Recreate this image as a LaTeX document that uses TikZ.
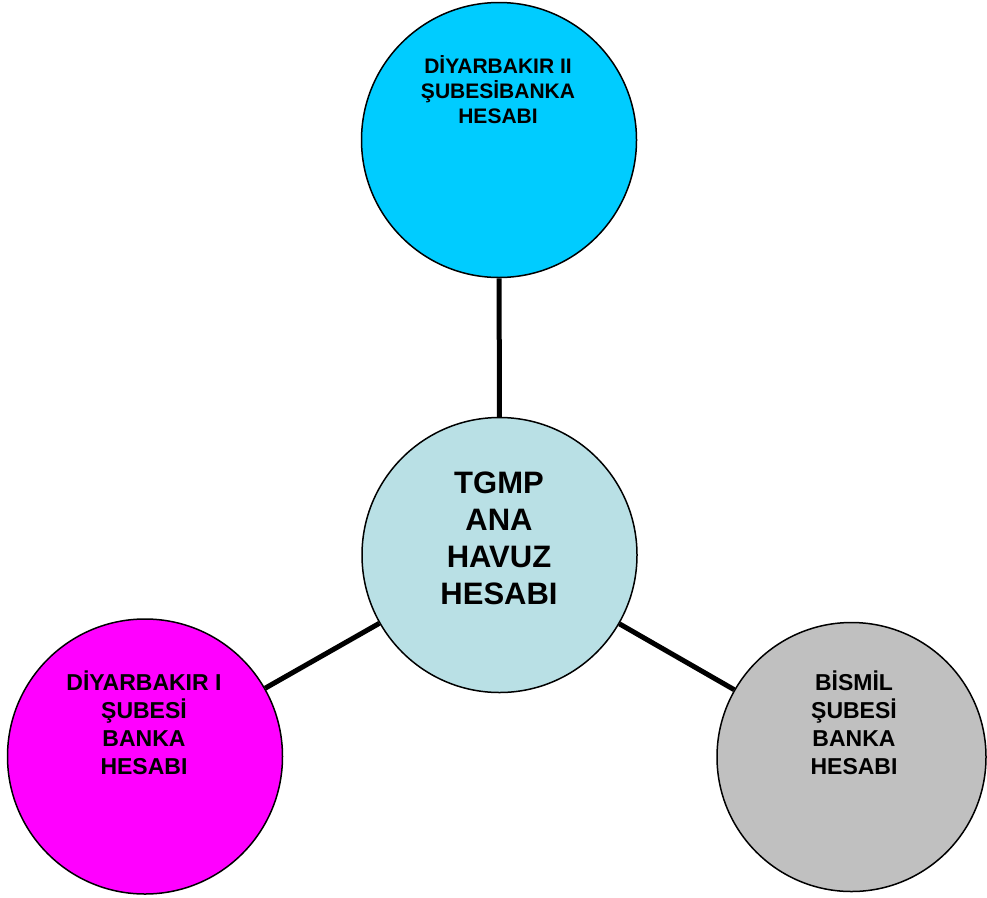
\documentclass[tikz,border=0pt]{standalone}
\usepackage{fontspec}
\setmainfont{Liberation Sans}
\definecolor{camgobegi}{RGB}{0,204,255}
\definecolor{acikmavi}{RGB}{185,224,229}
\definecolor{eflatun}{RGB}{255,0,255}
\definecolor{gumus}{RGB}{192,192,192}

\begin{document}
\begin{tikzpicture}[x=1pt, y=-1pt,
  hesap/.style={circle, draw=black, line width=1.5pt, minimum size=275pt, inner sep=0pt},
  yazi/.style={align=center, anchor=base, font=\bfseries\fontsize{23}{28}\selectfont},
  bag/.style={line width=5pt}]
\useasboundingbox (0,0) rectangle (987,897);
% hesaplar
\node[hesap, fill=camgobegi] (sube2) at (499,140) {};
\node[hesap, fill=acikmavi] (havuz) at (499.5,555) {};
\node[hesap, fill=eflatun] (sube1) at (145,756.5) {};
\node[hesap, fill=gumus, minimum size=269pt] (bismil) at (851.5,757) {};
% baglantilar
\draw[bag] (sube2) -- (havuz);
\draw[bag] (havuz) -- (sube1);
\draw[bag] (havuz) -- (bismil);
% yazilar (base = son satir)
\node[yazi, font=\bfseries\fontsize{21}{25}\selectfont] (sube2yazi) at (498,123)
  {DİYARBAKIR II\\ŞUBESİBANKA\\HESABI};
\node[yazi, font=\bfseries\fontsize{31}{37}\selectfont] (havuzyazi) at (499,604)
  {TGMP\\ANA\\HAVUZ\\HESABI};
\node[yazi] (sube1yazi) at (144,774) {DİYARBAKIR I\\ŞUBESİ\\BANKA\\HESABI};
\node[yazi] (bismilyazi) at (854,774) {BİSMİL\\ŞUBESİ\\BANKA\\HESABI};
\end{tikzpicture}
\end{document}
